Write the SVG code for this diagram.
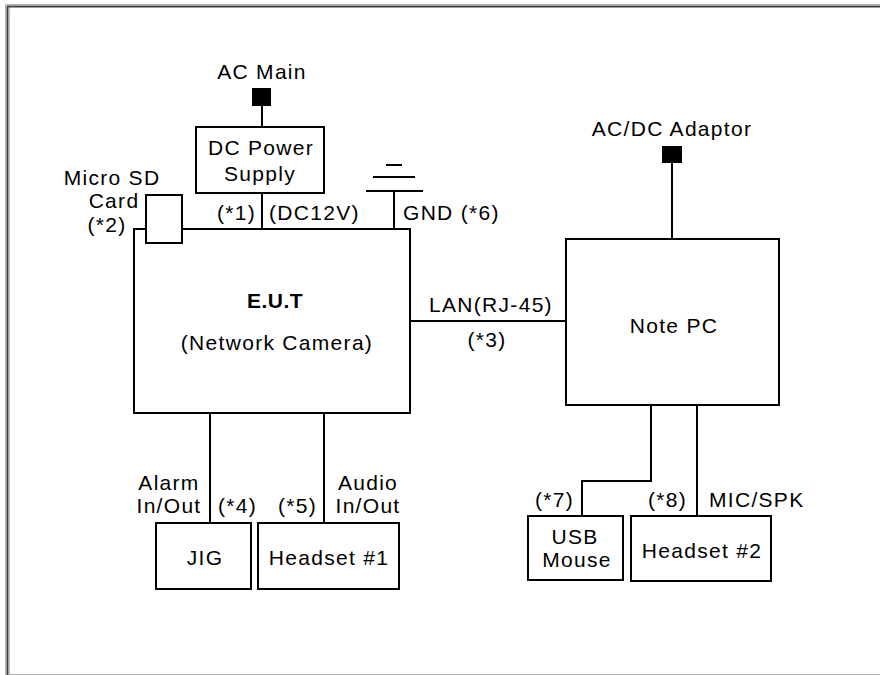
<svg xmlns="http://www.w3.org/2000/svg" width="880" height="675" viewBox="0 0 880 675">
<style>
text{font-family:"Liberation Sans",Arial,sans-serif;font-size:21px;letter-spacing:1.3px;fill:#000}
.m{text-anchor:middle}
.e{text-anchor:end}
.b{font-weight:bold;letter-spacing:0.5px}
.box{fill:#fff;stroke:#000;stroke-width:2}
.ln{fill:none;stroke:#000;stroke-width:2}
.plug{fill:#000}
</style>
<rect width="880" height="675" fill="#fff"/>
<g id="frame">
<path d="M5.5,675 V4.5 H880" fill="none" stroke="#b0b0b0" stroke-width="1"/>
<path d="M7.5,675 V6.5 H880" fill="none" stroke="#404040" stroke-width="2"/>
<path d="M9.5,675 V8.5" fill="none" stroke="#c0c0c0" stroke-width="1"/>
<path d="M9,674.5 H880" fill="none" stroke="#b0b0b0" stroke-width="1"/>
</g>
<g id="connectors">
<path class="ln" d="M262,106 V127"/>
<path class="ln" d="M262,193 V229"/>
<path class="ln" d="M394,191 V229"/>
<path class="ln" d="M366,191 H423 M373,177 H415 M386,165 H402"/>
<path class="ln" d="M672,163 V239"/>
<path class="ln" d="M410,321 H566"/>
<path class="ln" d="M210,413 V523"/>
<path class="ln" d="M324,413 V523"/>
<path class="ln" d="M651,405 V481 H582 V516"/>
<path class="ln" d="M697,405 V516"/>
</g>
<g id="ac-main">
<rect class="plug" x="252" y="88" width="19" height="18"/>
<text class="m" x="262" y="79">AC Main</text>
</g>
<g id="dc-power-supply">
<rect class="box" x="196" y="127" width="128" height="66"/>
<text class="m" x="261" y="155">DC Power</text>
<text class="m" x="260" y="181">Supply</text>
</g>
<g id="eut">
<rect class="box" x="134" y="229" width="276" height="184"/>
<text class="m b" x="275" y="308">E.U.T</text>
<text class="m" x="277" y="350">(Network Camera)</text>
</g>
<g id="micro-sd">
<rect class="box" x="146" y="195" width="36" height="48"/>
<text class="m" x="112" y="185">Micro SD</text>
<text class="m" x="114" y="208">Card</text>
<text class="m" x="107" y="232">(*2)</text>
</g>
<g id="labels">
<text class="e" x="256" y="220">(*1)</text>
<text x="269" y="220">(DC12V)</text>
<text x="403" y="220">GND (*6)</text>
<text class="m" x="491" y="312">LAN(RJ-45)</text>
<text class="m" x="487" y="347">(*3)</text>
<text class="m" x="169" y="490">Alarm</text>
<text class="m" x="169" y="513">In/Out</text>
<text x="218" y="513">(*4)</text>
<text x="278" y="513">(*5)</text>
<text class="m" x="368" y="490">Audio</text>
<text class="m" x="368" y="513">In/Out</text>
<text x="535" y="507">(*7)</text>
<text x="648" y="507">(*8)</text>
<text x="709" y="507">MIC/SPK</text>
</g>
<g id="ac-dc-adaptor">
<rect class="plug" x="662" y="146" width="20" height="17"/>
<text class="m" x="672" y="136">AC/DC Adaptor</text>
</g>
<g id="note-pc">
<rect class="box" x="566" y="239" width="213" height="166"/>
<text class="m" x="674" y="333">Note PC</text>
</g>
<g id="jig">
<rect class="box" x="156" y="523" width="95" height="66"/>
<text class="m" x="205" y="565">JIG</text>
</g>
<g id="headset1">
<rect class="box" x="258" y="523" width="141" height="66"/>
<text class="m" x="329" y="565">Headset #1</text>
</g>
<g id="usb-mouse">
<rect class="box" x="528" y="516" width="95" height="64"/>
<text class="m" x="575" y="544">USB</text>
<text class="m" x="577" y="567">Mouse</text>
</g>
<g id="headset2">
<rect class="box" x="631" y="516" width="140" height="65"/>
<text class="m" x="702" y="558">Headset #2</text>
</g>
</svg>
